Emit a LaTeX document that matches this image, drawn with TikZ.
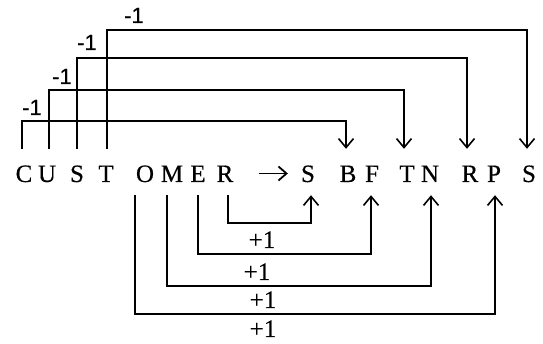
\documentclass[tikz,border=0pt]{standalone}
\usepackage{fontspec}
\setmainfont{Liberation Serif}
\newfontfamily\timesfont[FakeBold=0.4]{Liberation Serif}
\newfontfamily\arialfont[FakeBold=0.4]{Liberation Sans}
\usetikzlibrary{arrows.meta}
\begin{document}
\begin{tikzpicture}[x=1pt,y=-1pt,
  let/.style={inner sep=0pt,anchor=base,text height=17pt,text depth=0pt,font=\timesfont\fontsize{25}{25}\selectfont},
  minus/.style={inner sep=0pt,anchor=base,font=\arialfont\fontsize{22}{22}\selectfont},
  plus/.style={inner sep=0pt,anchor=base,font=\timesfont\fontsize{25}{25}\selectfont},
  conn/.style={line width=1.6pt,-{Straight Barb[length=9pt,width=15pt]}},
  harr/.style={line width=1.8pt,-{Straight Barb[length=8pt,width=14pt]}}]
\path[use as bounding box] (0,0) rectangle (543,344);
% letters
\node[let] (C)  at (24,182)  {C};
\node[let] (U)  at (47,182)  {U};
\node[let] (S)  at (77,182)  {S};
\node[let] (T)  at (106,182) {T};
\node[let] (O)  at (145,182) {O};
\node[let] (M)  at (172,182) {M};
\node[let] (E)  at (198,182) {E};
\node[let] (R)  at (225,182) {R};
\node[let] (S2) at (308,182) {S};
\node[let] (B)  at (348,182) {B};
\node[let] (F)  at (372,182) {F};
\node[let] (T2) at (407,182) {T};
\node[let] (N)  at (430,182) {N};
\node[let] (R2) at (470,182) {R};
\node[let] (P)  at (494,182) {P};
\node[let] (S3) at (529,182) {S};
% main arrow
\draw[harr,shorten <=25pt,shorten >=13pt] (R.east) -- (S2.west);
% top connectors
\draw[conn] ([xshift=-2pt,yshift=16pt]C.north) -- ++(0,-28) -| ([xshift=-2pt,yshift=16pt]B.north);
\draw[conn] ([xshift=2pt,yshift=16pt]U.north) -- ++(0,-59) -| ([xshift=-3pt,yshift=16pt]T2.north);
\draw[conn] ([yshift=16pt]S.north) -- ++(0,-91) -| ([xshift=-3pt,yshift=16pt]R2.north);
\draw[conn] ([xshift=1pt,yshift=16pt]T.north) -- ++(0,-119) -| ([xshift=-2pt,yshift=16pt]S3.north);
% bottom connectors
\draw[conn] ([xshift=3pt,yshift=-13pt]R.south) -- ++(0,28) -| ([xshift=3pt,yshift=-13pt]S2.south);
\draw[conn] ([yshift=-13pt]E.south) -- ++(0,59) -| ([xshift=-1pt,yshift=-13pt]F.south);
\draw[conn] ([xshift=-5pt,yshift=-13pt]M.south) -- ++(0,91) -| ([xshift=1pt,yshift=-13pt]N.south);
\draw[conn] ([xshift=-10pt,yshift=-13pt]O.south) -- ++(0,119) -| ([xshift=1pt,yshift=-13pt]P.south);
% labels
\node[minus] (m1) at (32,115) {-1};
\node[minus] (m2) at (62,84)  {-1};
\node[minus] (m3) at (87,50)  {-1};
\node[minus] (m4) at (134,23) {-1};
\node[plus] (p1) at (262,248) {+1};
\node[plus] (p2) at (257,280) {+1};
\node[plus] (p3) at (263,308) {+1};
\node[plus] (p4) at (263,337) {+1};
\end{tikzpicture}
\end{document}
